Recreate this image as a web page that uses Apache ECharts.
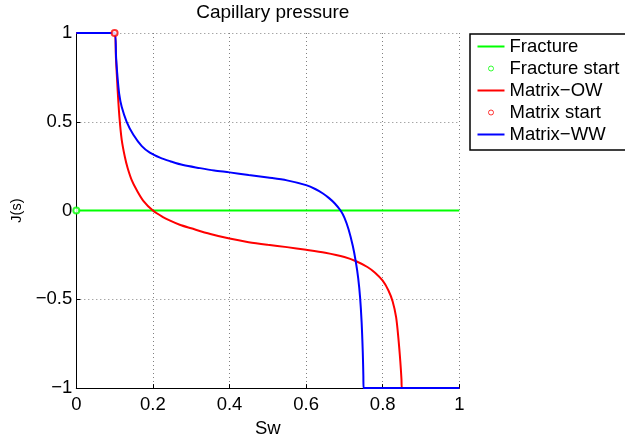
<!DOCTYPE html>
<html>
<head>
<meta charset="utf-8">
<script src="https://cdn.jsdelivr.net/npm/echarts@6/dist/echarts.min.js"></script>
<style>
html,body{margin:0;padding:0;background:#fff;}
#chart{width:625px;height:443px;}
</style>
</head>
<body>
<div id="chart"></div>
<script>
// Data
var fractureX = [0, 1];
var fractureY = [0, 0];
var fractureStart = [[0, 0]];

var owX = [0, 0.1, 0.1035, 0.108, 0.1125, 0.1185, 0.127, 0.134, 0.145, 0.158, 0.175, 0.2, 0.225, 0.245, 0.27, 0.3, 0.35, 0.4, 0.45, 0.5, 0.55, 0.6, 0.65, 0.7, 0.732, 0.76, 0.78, 0.8, 0.815, 0.826, 0.835, 0.841, 0.846, 0.849, 0.85, 1];
var owY = [1, 1, 0.86, 0.676, 0.529, 0.40, 0.30, 0.24, 0.17, 0.114, 0.055, 0, -0.035, -0.057, -0.08, -0.10, -0.132, -0.158, -0.178, -0.193, -0.206, -0.221, -0.238, -0.262, -0.287, -0.318, -0.35, -0.395, -0.45, -0.512, -0.6, -0.72, -0.85, -0.95, -1, -1];

var matrixStart = [[0.1, 1]];

var wwX = [0, 0.1, 0.104, 0.107, 0.112, 0.1185, 0.1315, 0.149, 0.171, 0.192, 0.2185, 0.245, 0.279, 0.323, 0.36, 0.4, 0.45, 0.5, 0.55, 0.6, 0.625, 0.644, 0.66, 0.675, 0.69, 0.70, 0.711, 0.722, 0.730, 0.736, 0.741, 0.745, 0.748, 0.7495, 0.75, 1];
var wwY = [1, 1, 0.86, 0.768, 0.657, 0.584, 0.5, 0.427, 0.363, 0.326, 0.298, 0.278, 0.256, 0.239, 0.226, 0.215, 0.2, 0.186, 0.17, 0.143, 0.12, 0.096, 0.07, 0.04, 0, -0.04, -0.107, -0.2, -0.291, -0.38, -0.49, -0.63, -0.8, -0.93, -1, -1];

var xTicks = [0, 0.2, 0.4, 0.6, 0.8, 1];
var yTicks = [-1, -0.5, 0, 0.5, 1];

function pairs(xs, ys) { return xs.map(function (x, i) { return [x, ys[i]]; }); }
function fmt(v) { return String(v).replace('-', '\u2212'); }

var FONT = 'Liberation Sans, Arial, Helvetica, sans-serif';
var LINE_ICON = 'path://M0,0 M0,5 L27,5 L27,7 L0,7 Z M27,12';
var RING_ICON = 'path://M0,0 M11,6 A2.5,2.5 0 1 1 16,6 A2.5,2.5 0 1 1 11,6 Z M27,12';

var chart = echarts.init(document.getElementById('chart'), null, {renderer: 'canvas'});
chart.setOption({
  animation: false,
  backgroundColor: '#fff',
  textStyle: {fontFamily: FONT, color: '#000'},
  title: {
    text: 'Capillary pressure',
    left: 267.8, top: -2, textAlign: 'center',
    textStyle: {fontFamily: FONT, fontSize: 19, fontWeight: 'normal', color: '#000'}
  },
  legend: {
    left: 470, top: 34,
    orient: 'vertical',
    padding: [3, 30, 6, 7],
    itemWidth: 27, itemHeight: 12, itemGap: 3,
    borderColor: '#000', borderWidth: 1.5,
    backgroundColor: '#fff',
    textStyle: {fontFamily: FONT, fontSize: 18.5, color: '#000'},
    data: [
      {name: 'Fracture', icon: LINE_ICON, itemStyle: {color: '#00ff00', borderWidth: 0}},
      {name: 'Fracture start', icon: RING_ICON, itemStyle: {color: 'rgba(0,0,0,0)', borderColor: '#00ff00', borderWidth: 1}},
      {name: 'Matrix\u2212OW', icon: LINE_ICON, itemStyle: {color: '#ff0000', borderWidth: 0}},
      {name: 'Matrix start', icon: RING_ICON, itemStyle: {color: 'rgba(0,0,0,0)', borderColor: '#ff0000', borderWidth: 1}},
      {name: 'Matrix\u2212WW', icon: LINE_ICON, itemStyle: {color: '#0000ff', borderWidth: 0}}
    ]
  },
  grid: {left: 76.3, right: 165.7, top: 33, bottom: 48.3, containLabel: false},
  xAxis: {
    type: 'value', min: 0, max: 1, interval: 0.2,
    name: 'Sw', nameLocation: 'middle', nameGap: 24,
    nameTextStyle: {fontFamily: FONT, fontSize: 18.5, color: '#000', verticalAlign: 'top'},
    axisLine: {show: true, onZero: false, lineStyle: {color: '#000', width: 1}},
    axisTick: {show: true, inside: true, length: 4, lineStyle: {color: '#000'}},
    axisLabel: {fontFamily: FONT, fontSize: 18.5, color: '#000', margin: 7, formatter: function (v) { return fmt(v); }},
    splitLine: {show: true, lineStyle: {color: '#808080', type: [1, 3], width: 1}}
  },
  yAxis: {
    type: 'value', min: -1, max: 1, interval: 0.5,
    name: 'J(s)', nameLocation: 'middle', nameGap: 50, nameRotate: 90,
    nameTextStyle: {fontFamily: FONT, fontSize: 14.5, color: '#000'},
    axisLine: {show: true, onZero: false, lineStyle: {color: '#000', width: 1}},
    axisTick: {show: true, inside: true, length: 4, lineStyle: {color: '#000'}},
    axisLabel: {fontFamily: FONT, fontSize: 18.5, color: '#000', margin: 4, formatter: function (v) { return fmt(v); }},
    splitLine: {show: true, lineStyle: {color: '#808080', type: [1, 3], width: 1}}
  },
  series: [
    {name: 'Fracture', type: 'line', data: pairs(fractureX, fractureY), symbol: 'none',
     lineStyle: {color: '#00ff00', width: 2}, itemStyle: {color: '#00ff00'}, z: 2},
    {name: 'Fracture start', type: 'scatter', data: fractureStart, symbol: 'emptyCircle', symbolSize: 6,
     itemStyle: {color: '#00ff00', borderColor: '#00ff00', borderWidth: 1}, z: 5},
    {name: 'Matrix\u2212OW', type: 'line', data: pairs(owX, owY), symbol: 'none', smooth: 0.3,
     lineStyle: {color: '#ff0000', width: 2}, itemStyle: {color: '#ff0000'}, z: 3},
    {name: 'Matrix start', type: 'scatter', data: matrixStart, symbol: 'emptyCircle', symbolSize: 6,
     itemStyle: {color: '#ff0000', borderColor: '#ff0000', borderWidth: 1}, z: 5},
    {name: 'Matrix\u2212WW', type: 'line', data: pairs(wwX, wwY), symbol: 'none', smooth: 0.3,
     lineStyle: {color: '#0000ff', width: 2}, itemStyle: {color: '#0000ff'}, z: 4}
  ]
});
</script>
</body>
</html>
